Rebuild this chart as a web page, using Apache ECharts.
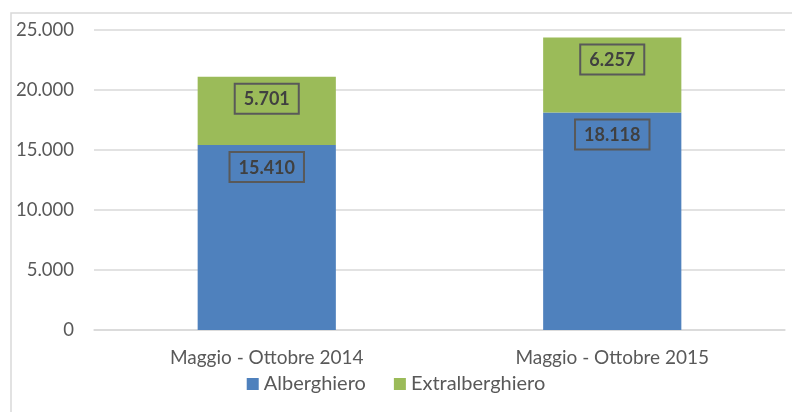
<!DOCTYPE html>
<html>
<head>
<meta charset="utf-8">
<script src="https://cdn.jsdelivr.net/npm/echarts@6/dist/echarts.min.js"></script>
<style>
html, body { margin: 0; padding: 0; background: #fff; }
#chart { width: 792px; height: 412px; }
</style>
</head>
<body>
<div id="chart"></div>
<script>
var categories = ['Maggio - Ottobre 2014', 'Maggio - Ottobre 2015'];
var alberghiero = [15410, 18118];
var extralberghiero = [5701, 6257];
var seriesNames = ['Alberghiero', 'Extralberghiero'];

function fmt(v) {
    return String(v).replace(/\B(?=(\d{3})+(?!\d))/g, '.');
}

var chart = echarts.init(document.getElementById('chart'));

var labelStyle = {
    show: true,
    position: 'insideTop',
    distance: 7,
    formatter: function (p) { return fmt(p.value); },
    fontFamily: 'Lato',
    fontWeight: 'bold',
    fontSize: 18,
    color: '#404040',
    borderColor: '#595959',
    borderWidth: 2,
    padding: [7, 9, 5, 9]
};

var option = {
    animation: false,
    textStyle: { fontFamily: 'Lato' },
    graphic: [{
        type: 'rect',
        shape: { x: 11, y: 13, width: 800, height: 420 },
        style: { fill: 'none', stroke: '#d9d9d9', lineWidth: 1.5 },
        silent: true
    }],
    grid: { left: 94, right: 7, top: 30, bottom: 82 },
    legend: {
        data: seriesNames,
        bottom: 13,
        left: 'center',
        icon: 'rect',
        itemWidth: 12,
        itemHeight: 12,
        itemGap: 28,
        textStyle: { fontSize: 20, color: '#595959', fontFamily: 'Lato' }
    },
    xAxis: {
        type: 'category',
        data: categories,
        axisLine: { lineStyle: { color: '#d9d9d9', width: 1.5 } },
        axisTick: { show: false },
        axisLabel: { fontSize: 19, color: '#595959', margin: 18 }
    },
    yAxis: {
        type: 'value',
        min: 0,
        max: 25000,
        interval: 5000,
        axisLine: { show: false },
        axisTick: { show: false },
        splitLine: { lineStyle: { color: '#d9d9d9', width: 1.5 } },
        axisLabel: {
            fontSize: 18.5,
            color: '#595959',
            margin: 20,
            formatter: function (v) { return fmt(v); }
        }
    },
    series: [{
        name: seriesNames[0],
        type: 'bar',
        stack: 'tot',
        barWidth: '40%',
        itemStyle: { color: '#4f81bd' },
        label: labelStyle,
        data: alberghiero
    }, {
        name: seriesNames[1],
        type: 'bar',
        stack: 'tot',
        barWidth: '40%',
        itemStyle: { color: '#9bbb59' },
        label: labelStyle,
        data: extralberghiero
    }]
};

chart.setOption(option);
</script>
</body>
</html>
